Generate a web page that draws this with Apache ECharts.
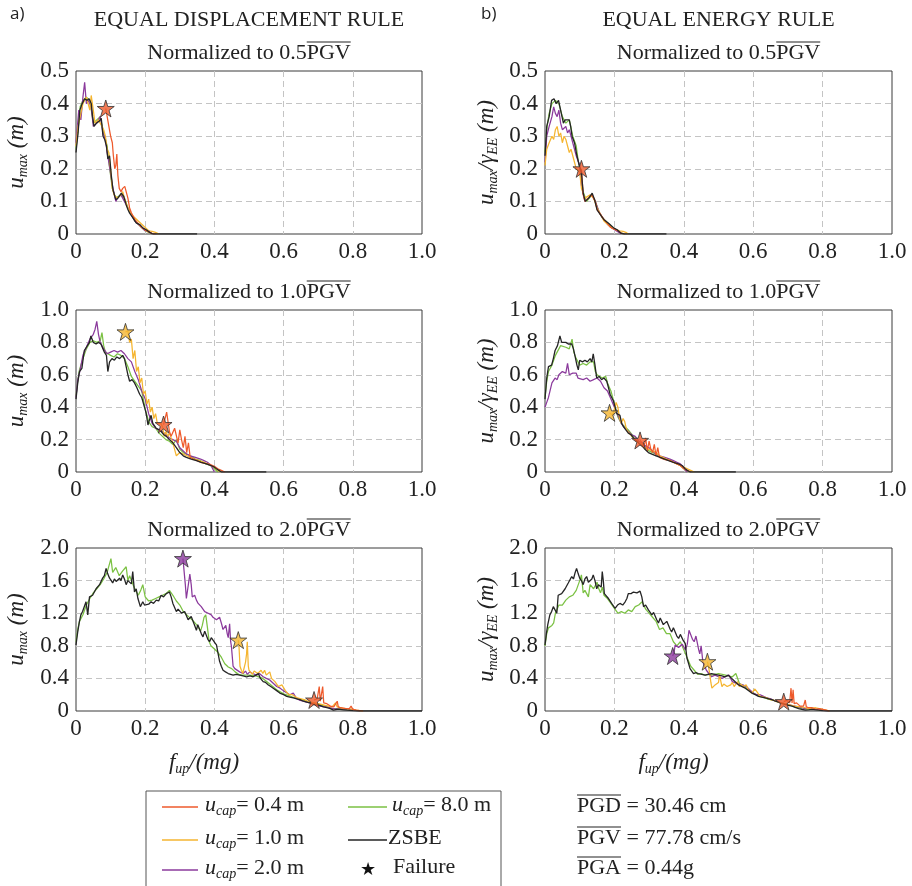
<!DOCTYPE html>
<html><head><meta charset="utf-8">
<script src="https://cdn.jsdelivr.net/npm/echarts@6/dist/echarts.min.js"></script>
<style>html,body{margin:0;padding:0;background:#fff}#c{width:912px;height:886px}</style>
</head><body><div id="c"></div><script>
// ---------------- DATA ----------------
// Equal displacement rule, 0.5 PGV
const DR05_ZSBE=[[0,.25],[.006,.31],[.011,.38],[.018,.40],[.025,.415],[.029,.42],[.032,.41],[.038,.415],[.044,.40],[.048,.36],[.052,.33],[.059,.34],[.062,.335],[.066,.345],[.073,.355],[.078,.30],[.083,.29],[.088,.27],[.092,.23],[.097,.24],[.102,.18],[.107,.135],[.115,.105],[.121,.11],[.126,.115],[.131,.125],[.138,.115],[.145,.09],[.15,.075],[.155,.064],[.16,.058],[.165,.049],[.174,.034],[.184,.029],[.194,.018],[.203,.013],[.213,.005],[.222,0],[.35,0]];
const DR05_U04=[[.086,.385],[.09,.38],[.095,.33],[.10,.30],[.105,.28],[.108,.24],[.112,.20],[.115,.21],[.118,.245],[.121,.18],[.125,.14],[.13,.13],[.135,.14],[.141,.146],[.145,.13],[.15,.11],[.155,.08],[.16,.065],[.17,.045],[.18,.032],[.19,.02],[.20,.012],[.21,.006],[.22,.002],[.23,0]];
const DR05_U10=[[0,.27],[.006,.33],[.012,.36],[.02,.40],[.03,.42],[.035,.40],[.04,.38],[.044,.425],[.05,.38],[.055,.34],[.065,.35],[.07,.34],[.08,.32],[.085,.30],[.09,.26],[.095,.25],[.10,.20],[.105,.14],[.11,.12],[.12,.11],[.13,.12],[.135,.13],[.14,.11],[.15,.08],[.16,.06],[.17,.05],[.18,.04],[.19,.03],[.20,.02],[.21,.01],[.22,.008],[.23,.005],[.24,0]];
const DR05_U20=[[0,.28],[.008,.38],[.014,.35],[.02,.42],[.025,.465],[.03,.40],[.035,.41],[.04,.40],[.045,.38],[.05,.33],[.06,.34],[.065,.35],[.07,.36],[.078,.31],[.085,.29],[.09,.25],[.095,.22],[.105,.15],[.115,.10],[.12,.11],[.13,.12],[.135,.12],[.14,.10],[.15,.08],[.16,.06],[.17,.04],[.18,.03],[.19,.02],[.20,.01],[.21,.01],[.22,0]];
const DR05_U80=[[0,.26],[.006,.32],[.012,.39],[.02,.41],[.03,.42],[.04,.41],[.05,.34],[.06,.35],[.07,.36],[.08,.31],[.09,.27],[.095,.22],[.105,.14],[.115,.11],[.13,.12],[.14,.11],[.15,.08],[.16,.06],[.17,.04],[.18,.03],[.19,.02],[.20,.01],[.22,0]];
const DR05_FAIL=[[.086,.385,'u04']];

// Equal energy rule, 0.5 PGV
const EE05_ZSBE=[[0,.24],[.005,.33],[.012,.36],[.019,.41],[.026,.415],[.032,.40],[.039,.41],[.043,.405],[.047,.37],[.053,.34],[.058,.35],[.063,.345],[.07,.35],[.074,.33],[.078,.30],[.085,.28],[.092,.24],[.099,.21],[.105,.19],[.11,.125],[.116,.10],[.126,.11],[.136,.125],[.143,.105],[.15,.074],[.16,.059],[.17,.044],[.184,.032],[.199,.018],[.208,.013],[.218,.003],[.228,0],[.35,0]];
const EE05_U04=[[.105,.20],[.108,.20],[.11,.12],[.115,.10],[.125,.11],[.135,.12],[.14,.12],[.145,.10],[.15,.075],[.16,.06],[.17,.045],[.18,.033],[.19,.02],[.20,.015],[.21,.01],[.22,.003],[.23,0]];
const EE05_U10=[[0,.21],[.005,.26],[.012,.28],[.02,.30],[.025,.29],[.03,.32],[.035,.33],[.04,.30],[.045,.31],[.05,.28],[.055,.30],[.06,.29],[.065,.27],[.07,.25],[.075,.26],[.08,.24],[.085,.22],[.09,.20],[.10,.19],[.105,.14],[.115,.11],[.13,.12],[.14,.11],[.15,.08],[.16,.06],[.17,.04],[.18,.03],[.19,.02],[.20,.015],[.215,.01],[.225,.008],[.235,.004],[.24,0]];
const EE05_U20=[[0,.22],[.005,.30],[.012,.33],[.02,.36],[.025,.39],[.03,.37],[.035,.36],[.04,.38],[.045,.34],[.05,.32],[.06,.33],[.065,.31],[.07,.32],[.08,.28],[.085,.26],[.09,.24],[.10,.21],[.105,.15],[.115,.10],[.125,.11],[.135,.12],[.145,.10],[.155,.07],[.165,.05],[.18,.03],[.19,.02],[.205,.01],[.22,0]];
const EE05_U80=[[0,.25],[.006,.33],[.012,.37],[.02,.40],[.03,.41],[.04,.40],[.05,.36],[.06,.34],[.07,.35],[.08,.30],[.09,.27],[.095,.23],[.10,.20],[.11,.13],[.12,.10],[.135,.12],[.145,.10],[.155,.07],[.165,.05],[.175,.04],[.185,.03],[.195,.02],[.21,.01],[.225,0]];
const EE05_FAIL=[[.105,.20,'u04']];

// Equal displacement rule, 1.0 PGV
const DR10_ZSBE=[[0,.45],[.005,.55],[.01,.62],[.017,.64],[.024,.75],[.03,.77],[.039,.80],[.043,.84],[.05,.80],[.058,.79],[.065,.80],[.072,.79],[.082,.74],[.088,.72],[.092,.62],[.097,.68],[.104,.70],[.111,.69],[.118,.71],[.126,.70],[.135,.72],[.14,.70],[.145,.65],[.15,.60],[.155,.56],[.162,.57],[.169,.55],[.176,.52],[.184,.48],[.19,.46],[.198,.40],[.203,.36],[.208,.29],[.212,.32],[.217,.35],[.222,.30],[.227,.29],[.232,.27],[.24,.26],[.246,.25],[.254,.23],[.261,.22],[.27,.20],[.28,.18],[.29,.15],[.30,.12],[.31,.10],[.319,.09],[.333,.08],[.348,.07],[.362,.06],[.377,.05],[.39,.04],[.40,.03],[.406,.02],[.413,.01],[.42,0],[.55,0]];
const DR10_U04=[[.253,.293],[.257,.30],[.262,.37],[.266,.36],[.27,.25],[.275,.22],[.28,.22],[.285,.27],[.29,.26],[.295,.18],[.30,.26],[.305,.20],[.31,.15],[.315,.22],[.32,.12],[.325,.18],[.33,.09],[.34,.08],[.35,.07],[.36,.06],[.38,.05],[.39,.045],[.40,.035],[.41,.02],[.42,.01],[.43,0]];
const DR10_U10=[[.143,.865],[.15,.87],[.155,.80],[.16,.82],[.165,.70],[.17,.75],[.175,.62],[.18,.65],[.185,.55],[.19,.58],[.195,.48],[.20,.50],[.205,.42],[.21,.45],[.215,.37],[.22,.40],[.225,.33],[.23,.36],[.235,.30],[.245,.30],[.25,.28],[.255,.22],[.26,.25],[.265,.22],[.27,.24],[.28,.18],[.29,.10],[.30,.12],[.31,.11],[.32,.10],[.33,.09],[.34,.08],[.355,.07],[.37,.06],[.38,.05],[.39,.04],[.40,.03],[.41,.01],[.42,0]];
const DR10_U20=[[0,.46],[.005,.57],[.01,.61],[.02,.72],[.03,.77],[.04,.82],[.05,.85],[.055,.88],[.06,.93],[.065,.85],[.07,.80],[.08,.76],[.09,.73],[.10,.74],[.11,.75],[.12,.74],[.13,.75],[.14,.73],[.15,.70],[.16,.68],[.17,.62],[.18,.57],[.185,.56],[.19,.50],[.20,.45],[.21,.36],[.215,.33],[.22,.30],[.23,.27],[.24,.26],[.25,.25],[.26,.23],[.27,.21],[.28,.20],[.29,.19],[.30,.15],[.31,.13],[.32,.11],[.33,.10],[.345,.09],[.36,.08],[.37,.07],[.38,.06],[.385,.05],[.39,.04],[.395,.02],[.40,0]];
const DR10_U80=[[0,.47],[.005,.56],[.01,.63],[.02,.70],[.03,.76],[.04,.80],[.05,.81],[.06,.80],[.07,.81],[.075,.86],[.08,.78],[.085,.74],[.09,.73],[.10,.72],[.11,.71],[.12,.73],[.13,.72],[.14,.70],[.15,.65],[.16,.59],[.17,.56],[.18,.53],[.19,.50],[.20,.39],[.21,.31],[.22,.28],[.23,.27],[.24,.24],[.25,.22],[.26,.20],[.27,.19],[.28,.17],[.29,.20],[.30,.14],[.31,.12],[.32,.11],[.33,.10],[.345,.08],[.36,.07],[.375,.05],[.39,.04],[.40,.02],[.41,0]];
const DR10_FAIL=[[.143,.865,'u10'],[.253,.293,'u04']];

// Equal energy rule, 1.0 PGV
const EE10_ZSBE=[[0,.45],[.005,.58],[.01,.65],[.019,.66],[.024,.70],[.029,.75],[.036,.78],[.043,.84],[.048,.80],[.053,.80],[.06,.80],[.067,.79],[.077,.79],[.082,.76],[.087,.71],[.092,.66],[.096,.63],[.10,.69],[.108,.68],[.115,.69],[.122,.68],[.13,.70],[.135,.68],[.139,.73],[.144,.66],[.149,.58],[.156,.59],[.163,.57],[.17,.58],[.178,.56],[.183,.52],[.1875,.48],[.197,.44],[.202,.40],[.207,.36],[.216,.35],[.221,.30],[.226,.28],[.233,.26],[.24,.24],[.248,.23],[.255,.21],[.265,.19],[.274,.17],[.281,.16],[.288,.14],[.298,.12],[.308,.11],[.32,.10],[.332,.09],[.345,.08],[.356,.07],[.37,.06],[.385,.05],[.395,.04],[.404,.02],[.41,.01],[.418,0],[.55,0]];
const EE10_U04=[[.274,.195],[.278,.20],[.28,.18],[.285,.15],[.29,.21],[.295,.13],[.30,.19],[.305,.14],[.31,.12],[.315,.17],[.32,.10],[.325,.15],[.33,.09],[.34,.08],[.35,.075],[.36,.07],[.37,.06],[.38,.05],[.39,.04],[.40,.02],[.41,.01],[.42,0]];
const EE10_U10=[[.186,.365],[.19,.37],[.195,.35],[.20,.35],[.205,.43],[.21,.40],[.215,.33],[.22,.30],[.225,.33],[.23,.31],[.235,.26],[.24,.25],[.25,.22],[.26,.20],[.27,.18],[.28,.16],[.29,.15],[.30,.14],[.31,.13],[.32,.12],[.33,.10],[.34,.09],[.35,.08],[.36,.07],[.37,.06],[.38,.05],[.39,.04],[.40,.03],[.41,.02],[.42,.01],[.43,0]];
const EE10_U20=[[0,.40],[.005,.43],[.01,.46],[.02,.55],[.029,.58],[.035,.57],[.04,.60],[.05,.62],[.06,.61],[.065,.67],[.07,.60],[.08,.61],[.09,.61],[.095,.58],[.10,.57],[.11,.57],[.12,.58],[.13,.56],[.14,.57],[.15,.58],[.16,.56],[.17,.52],[.18,.50],[.19,.45],[.20,.40],[.21,.35],[.22,.30],[.23,.27],[.24,.25],[.25,.23],[.26,.22],[.27,.19],[.28,.18],[.29,.16],[.30,.15],[.31,.13],[.32,.11],[.33,.10],[.345,.09],[.36,.08],[.37,.07],[.38,.06],[.39,.05],[.40,.03],[.405,.01],[.41,0]];
const EE10_U80=[[0,.46],[.005,.56],[.01,.62],[.02,.66],[.03,.72],[.045,.78],[.05,.77],[.06,.77],[.07,.76],[.078,.82],[.083,.74],[.09,.70],[.10,.66],[.11,.67],[.12,.66],[.13,.68],[.14,.68],[.145,.62],[.15,.60],[.165,.58],[.175,.59],[.18,.55],[.19,.50],[.20,.42],[.21,.34],[.22,.30],[.23,.28],[.24,.26],[.255,.22],[.265,.21],[.27,.18],[.28,.17],[.29,.15],[.30,.13],[.31,.12],[.32,.11],[.335,.09],[.35,.08],[.365,.07],[.38,.05],[.39,.04],[.40,.02],[.415,0]];
const EE10_FAIL=[[.186,.365,'u10'],[.274,.195,'u04']];

// Equal displacement rule, 2.0 PGV
const DR20_ZSBE=[[0,.81],[.005,.97],[.01,1.10],[.014,1.18],[.019,1.22],[.024,1.20],[.029,1.34],[.034,1.18],[.039,1.40],[.044,1.38],[.048,1.42],[.053,1.44],[.058,1.50],[.063,1.48],[.068,1.55],[.072,1.56],[.077,1.63],[.082,1.66],[.087,1.75],[.092,1.68],[.097,1.63],[.102,1.60],[.106,1.57],[.111,1.62],[.116,1.59],[.121,1.61],[.126,1.63],[.13,1.60],[.135,1.67],[.14,1.62],[.145,1.55],[.15,1.60],[.155,1.59],[.16,1.56],[.164,1.71],[.169,1.46],[.174,1.50],[.179,1.38],[.186,1.28],[.193,1.34],[.198,1.30],[.203,1.28],[.21,1.31],[.217,1.34],[.224,1.32],[.232,1.36],[.239,1.35],[.246,1.42],[.253,1.40],[.261,1.44],[.27,1.46],[.275,1.40],[.28,1.32],[.285,1.30],[.29,1.22],[.295,1.25],[.30,1.26],[.305,1.20],[.309,1.18],[.314,1.22],[.319,1.20],[.324,1.12],[.328,1.10],[.333,1.16],[.338,1.14],[.343,1.05],[.348,.99],[.352,1.06],[.357,1.04],[.362,.95],[.367,.91],[.372,.98],[.377,.97],[.381,.88],[.386,.85],[.391,.90],[.396,.89],[.401,.84],[.406,.81],[.41,.72],[.415,.61],[.42,.55],[.425,.50],[.432,.48],[.44,.46],[.447,.45],[.454,.44],[.463,.45],[.473,.44],[.483,.43],[.493,.42],[.503,.43],[.512,.42],[.52,.44],[.527,.46],[.533,.40],[.541,.36],[.548,.35],[.556,.32],[.563,.30],[.57,.28],[.58,.25],[.589,.22],[.60,.20],[.609,.18],[.618,.17],[.628,.16],[.638,.15],[.647,.14],[.657,.12],[.667,.11],[.676,.10],[.686,.08],[.695,.075],[.705,.07],[.715,.05],[.725,.04],[.735,.03],[.744,.01],[.754,.02],[.763,.02],[.773,.015],[.783,.01],[.792,.008],[.80,.005],[.81,.002],[.82,0],[1,0]];
const DR20_U04=[[.688,.135],[.692,.13],[.697,.15],[.70,.16],[.703,.30],[.706,.12],[.71,.14],[.713,.30],[.716,.10],[.72,.08],[.725,.09],[.73,.10],[.735,.06],[.74,.05],[.745,.05],[.75,.06],[.755,.12],[.758,.05],[.765,.04],[.77,.035],[.78,.03],[.785,.05],[.79,.03],[.795,.06],[.80,.02],[.81,.01],[.82,.005],[.83,0]];
const DR20_U10=[[.469,.87],[.471,.80],[.474,.55],[.478,.50],[.482,.46],[.486,.48],[.49,.60],[.493,.70],[.495,.85],[.498,.55],[.50,.50],[.505,.48],[.51,.45],[.515,.49],[.52,.50],[.525,.46],[.53,.48],[.535,.50],[.54,.46],[.545,.50],[.55,.44],[.555,.46],[.56,.48],[.565,.40],[.57,.38],[.575,.36],[.58,.35],[.585,.30],[.59,.28],[.595,.32],[.60,.30],[.605,.25],[.61,.24],[.615,.20],[.62,.22],[.625,.20],[.63,.18],[.64,.16],[.65,.15],[.66,.14],[.67,.12],[.68,.11],[.69,.10],[.70,.09],[.71,.08],[.72,.07],[.73,.06],[.74,.05],[.745,.06],[.75,.10],[.755,.05],[.76,.04],[.77,.035],[.78,.03],[.79,.025],[.80,.02],[.81,.01],[.82,.005],[.83,0]];
const DR20_U20=[[.309,1.87],[.311,1.78],[.316,1.55],[.319,1.38],[.324,1.40],[.329,1.68],[.333,1.55],[.336,1.40],[.343,1.42],[.348,1.36],[.353,1.32],[.358,1.30],[.362,1.28],[.367,1.25],[.372,1.22],[.377,1.24],[.382,1.20],[.386,1.18],[.391,1.18],[.396,1.15],[.401,1.14],[.406,1.12],[.411,1.10],[.415,1.15],[.42,1.08],[.425,1.00],[.43,1.02],[.433,1.05],[.437,.95],[.44,.90],[.444,1.07],[.447,.85],[.449,.80],[.454,.55],[.459,.52],[.464,.50],[.473,.48],[.483,.46],[.49,.49],[.495,.45],[.502,.48],[.51,.46],[.515,.44],[.522,.44],[.53,.46],[.541,.42],[.55,.40],[.56,.38],[.57,.34],[.58,.30],[.59,.28],[.599,.25],[.61,.22],[.618,.20],[.628,.22],[.638,.15],[.648,.13],[.657,.12],[.667,.11],[.676,.10],[.69,.08],[.705,.06],[.715,.055],[.725,.05],[.735,.04],[.744,.03],[.754,.025],[.763,.02],[.773,.025],[.783,.03],[.792,.02],[.802,.01],[.812,.005],[.821,0]];
const DR20_U80=[[0,.85],[.005,1.0],[.01,1.10],[.02,1.18],[.03,1.30],[.04,1.38],[.05,1.45],[.06,1.50],[.07,1.55],[.08,1.62],[.09,1.70],[.095,1.72],[.101,1.87],[.106,1.70],[.11,1.68],[.115,1.76],[.12,1.75],[.125,1.66],[.13,1.65],[.135,1.72],[.14,1.70],[.145,1.77],[.15,1.60],[.155,1.66],[.16,1.65],[.165,1.55],[.17,1.50],[.175,1.46],[.18,1.42],[.187,1.48],[.193,1.55],[.20,1.40],[.21,1.35],[.22,1.36],[.23,1.38],[.24,1.40],[.25,1.42],[.26,1.44],[.265,1.46],[.27,1.48],[.28,1.42],[.29,1.35],[.30,1.30],[.31,1.22],[.32,1.18],[.33,1.14],[.34,1.10],[.35,1.05],[.36,.98],[.365,1.05],[.37,1.15],[.375,1.18],[.38,1.02],[.385,.85],[.39,.80],[.40,.76],[.41,.72],[.42,.66],[.43,.58],[.44,.54],[.45,.52],[.46,.48],[.47,.45],[.48,.44],[.50,.44],[.52,.43],[.54,.40],[.56,.33],[.58,.26],[.60,.21],[.62,.18],[.64,.15],[.66,.13],[.68,.10],[.70,.08],[.72,.06],[.74,.03],[.76,.03],[.78,.02],[.80,.01],[.82,0]];
const DR20_FAIL=[[.309,1.87,'u20'],[.469,.87,'u10'],[.688,.135,'u04']];

// Equal energy rule, 2.0 PGV
const EE20_ZSBE=[[0,.81],[.004,.95],[.008,1.06],[.014,1.18],[.019,1.22],[.024,1.28],[.029,1.30],[.034,1.20],[.038,1.42],[.043,1.40],[.048,1.44],[.053,1.46],[.058,1.50],[.062,1.48],[.067,1.57],[.072,1.55],[.077,1.65],[.082,1.62],[.087,1.70],[.091,1.75],[.096,1.68],[.10,1.63],[.105,1.60],[.11,1.55],[.115,1.62],[.12,1.65],[.125,1.58],[.13,1.59],[.135,1.62],[.139,1.67],[.144,1.60],[.149,1.50],[.154,1.55],[.159,1.57],[.162,1.52],[.165,1.71],[.168,1.60],[.171,1.44],[.176,1.42],[.183,1.38],[.188,1.40],[.192,1.32],[.197,1.30],[.202,1.26],[.209,1.30],[.216,1.32],[.224,1.30],[.231,1.34],[.236,1.38],[.24,1.44],[.248,1.44],[.255,1.46],[.265,1.45],[.274,1.47],[.279,1.40],[.284,1.28],[.29,1.30],[.298,1.24],[.303,1.25],[.308,1.18],[.313,1.21],[.317,1.22],[.322,1.12],[.327,1.08],[.332,1.14],[.337,1.16],[.341,1.06],[.346,1.04],[.351,1.10],[.356,1.12],[.361,1.00],[.365,.97],[.37,1.02],[.375,1.01],[.38,.92],[.385,.89],[.39,.94],[.394,.93],[.399,.86],[.404,.83],[.409,.65],[.414,.58],[.418,.52],[.423,.49],[.428,.46],[.435,.47],[.442,.46],[.452,.45],[.462,.44],[.47,.45],[.48,.46],[.49,.45],[.50,.44],[.51,.43],[.519,.42],[.528,.44],[.538,.40],[.548,.36],[.558,.32],[.568,.30],[.577,.28],[.587,.25],[.596,.22],[.606,.20],[.615,.18],[.625,.17],[.635,.16],[.645,.15],[.654,.14],[.664,.12],[.673,.11],[.683,.09],[.692,.08],[.702,.07],[.712,.06],[.721,.045],[.731,.03],[.74,.02],[.75,.01],[.76,.015],[.769,.02],[.779,.015],[.788,.01],[.80,.005],[.817,0],[1,0]];
const EE20_U04=[[.688,.115],[.692,.11],[.697,.13],[.70,.14],[.705,.10],[.709,.28],[.712,.10],[.715,.26],[.718,.09],[.72,.08],[.725,.10],[.73,.09],[.735,.06],[.74,.05],[.745,.06],[.75,.135],[.753,.05],[.76,.04],[.765,.05],[.77,.04],[.78,.02],[.785,.04],[.79,.03],[.80,.02],[.81,.01],[.82,0]];
const EE20_U10=[[.468,.605],[.471,.55],[.475,.45],[.478,.35],[.481,.28],[.485,.30],[.49,.32],[.495,.34],[.50,.35],[.503,.45],[.506,.38],[.51,.30],[.515,.33],[.52,.32],[.525,.30],[.53,.28],[.535,.32],[.54,.35],[.545,.30],[.55,.32],[.555,.36],[.56,.30],[.565,.33],[.57,.30],[.575,.32],[.58,.32],[.585,.27],[.59,.25],[.595,.22],[.60,.22],[.605,.27],[.61,.24],[.62,.18],[.63,.17],[.64,.16],[.65,.14],[.66,.13],[.67,.11],[.68,.10],[.69,.09],[.70,.08],[.71,.07],[.72,.06],[.73,.055],[.74,.05],[.75,.04],[.76,.03],[.77,.035],[.78,.04],[.79,.03],[.80,.02],[.81,.01],[.82,0]];
const EE20_U20=[[.368,.675],[.372,.72],[.375,.81],[.38,.82],[.385,.78],[.39,.80],[.395,.82],[.40,.80],[.405,.75],[.41,.82],[.415,.99],[.42,1.0],[.425,.88],[.43,.85],[.435,.92],[.44,.93],[.443,.75],[.446,.70],[.45,.80],[.455,.60],[.46,.55],[.465,.50],[.47,.48],[.48,.42],[.49,.44],[.50,.42],[.51,.40],[.52,.42],[.53,.44],[.54,.36],[.55,.34],[.56,.33],[.57,.32],[.58,.30],[.59,.26],[.60,.22],[.61,.20],[.62,.20],[.63,.18],[.64,.16],[.65,.15],[.66,.13],[.67,.12],[.68,.10],[.69,.09],[.70,.08],[.71,.07],[.72,.06],[.73,.05],[.74,.04],[.75,.03],[.76,.03],[.77,.02],[.78,.02],[.79,.02],[.80,.01],[.81,.005],[.82,0]];
const EE20_U80=[[0,.80],[.005,.95],[.01,1.02],[.02,1.05],[.025,1.08],[.03,1.20],[.04,1.30],[.05,1.30],[.06,1.36],[.07,1.40],[.08,1.42],[.09,1.48],[.095,1.50],[.10,1.60],[.105,1.67],[.11,1.45],[.115,1.48],[.12,1.50],[.125,1.40],[.13,1.55],[.14,1.50],[.15,1.58],[.155,1.50],[.16,1.45],[.165,1.52],[.17,1.42],[.18,1.38],[.19,1.32],[.20,1.26],[.21,1.20],[.22,1.22],[.23,1.20],[.24,1.24],[.25,1.22],[.26,1.28],[.27,1.30],[.28,1.34],[.29,1.25],[.30,1.20],[.31,1.15],[.32,1.10],[.33,1.00],[.34,1.02],[.35,.95],[.36,.95],[.37,.85],[.38,.80],[.39,.85],[.40,.75],[.41,.65],[.42,.55],[.43,.50],[.44,.45],[.45,.46],[.46,.44],[.47,.45],[.48,.44],[.50,.46],[.52,.44],[.54,.42],[.55,.46],[.56,.34],[.58,.28],[.60,.22],[.62,.18],[.64,.15],[.66,.13],[.68,.10],[.70,.08],[.72,.05],[.74,.03],[.76,.02],[.78,.02],[.80,.01],[.82,0]];
const EE20_FAIL=[[.368,.675,'u20'],[.468,.605,'u10'],[.688,.115,'u04']];

// axis / label definitions
const X_TICK_STEP=0.2;
const Y_MAX=[0.5,1.0,2.0];
const Y_STEP=[0.1,0.2,0.4];
const NORM_FACTORS=['0.5','1.0','2.0'];
const RULE_TITLES=['EQUAL DISPLACEMENT RULE','EQUAL ENERGY RULE'];
const PANEL_TAGS=['a)','b)'];
const SERIES_KEYS=['u80','u20','u10','u04','zsbe'];
const SERIES_LABELS={u04:'0.4 m',u10:'1.0 m',u20:'2.0 m',u80:'8.0 m',zsbe:'ZSBE'};
const GM_LABELS=[['PGD',' = 30.46 cm'],['PGV',' = 77.78 cm/s'],['PGA',' = 0.44g']];

const DATA=[
  [{u80:DR05_U80,u20:DR05_U20,u10:DR05_U10,u04:DR05_U04,zsbe:DR05_ZSBE,fail:DR05_FAIL},
   {u80:EE05_U80,u20:EE05_U20,u10:EE05_U10,u04:EE05_U04,zsbe:EE05_ZSBE,fail:EE05_FAIL}],
  [{u80:DR10_U80,u20:DR10_U20,u10:DR10_U10,u04:DR10_U04,zsbe:DR10_ZSBE,fail:DR10_FAIL},
   {u80:EE10_U80,u20:EE10_U20,u10:EE10_U10,u04:EE10_U04,zsbe:EE10_ZSBE,fail:EE10_FAIL}],
  [{u80:DR20_U80,u20:DR20_U20,u10:DR20_U10,u04:DR20_U04,zsbe:DR20_ZSBE,fail:DR20_FAIL},
   {u80:EE20_U80,u20:EE20_U20,u10:EE20_U10,u04:EE20_U04,zsbe:EE20_ZSBE,fail:EE20_FAIL}]
];

// ---------------- STYLE / LAYOUT ----------------
const COLORS={u04:'#EE5A2C',u10:'#F5B530',u20:'#8B3A9C',u80:'#7BC143',zsbe:'#252525'};
const SERIF='"Liberation Serif","Times New Roman",serif';
const TXT='#222';
const COLS=[{left:76,width:346},{left:545,width:347}];
const ROWS=[{top:71,height:163},{top:310,height:162},{top:548,height:163}];
const STAR='path://M50,2 L61.2,36.6 L97.6,36.6 L68.2,58 L79.4,92.6 L50,71.2 L20.6,92.6 L31.8,58 L2.4,36.6 L38.8,36.6 Z';

const ctx=document.createElement('canvas').getContext('2d');
function textW(t,size){ctx.font=size+'px "Liberation Serif"';return ctx.measureText(t).width;}
function overText(x,cy,pre,over,post,size,center){
  const all=pre+over+post, w=textW(all,size), wp=textW(pre,size), wo=textW(over,size);
  const x0=center?x-w/2:x;
  return [
    {type:'text',silent:true,x:x0,y:cy,style:{text:all,fontSize:size,fontFamily:SERIF,fill:TXT,textAlign:'left',textVerticalAlign:'middle'}},
    {type:'line',silent:true,shape:{x1:x0+wp,y1:cy-size*0.5,x2:x0+wp+wo,y2:cy-size*0.5},style:{stroke:TXT,lineWidth:1.1}}
  ];
}
const richName={
  i:{fontFamily:SERIF,fontStyle:'italic',fontSize:23,color:TXT,lineHeight:26},
  s:{fontFamily:SERIF,fontStyle:'italic',fontSize:14,color:TXT,lineHeight:14,verticalAlign:'bottom'}
};
const fmt=v=>v===0?'0':v.toFixed(1);

const grids=[],xAxes=[],yAxes=[],series=[],graphics=[];
let idx=0;
for(let r=0;r<3;r++){
  for(let c=0;c<2;c++){
    const g=Object.assign({},COLS[c],ROWS[r]);
    grids.push({left:g.left,top:g.top,width:g.width,height:g.height,show:true,borderColor:'#3a3a3a',borderWidth:1,backgroundColor:'#fff',containLabel:false});
    const xa={gridIndex:idx,type:'value',min:0,max:1,interval:X_TICK_STEP,
      axisLine:{show:false},axisTick:{show:false},
      axisLabel:{formatter:fmt,fontFamily:SERIF,fontSize:23,color:TXT,margin:6},
      splitLine:{show:true,showMinLine:false,showMaxLine:false,lineStyle:{color:'#c4c4c4',type:[6,4],width:1}}};
    if(r===2){
      xa.name='{i|f}{s|up}{i|/(mg)}';
      xa.nameLocation='middle';xa.nameGap=39;
      xa.nameTextStyle={rich:richName,padding:[0,90,0,0]};
    }
    xAxes.push(xa);
    yAxes.push({gridIndex:idx,type:'value',min:0,max:Y_MAX[r],interval:Y_STEP[r],
      axisLine:{show:false},axisTick:{show:false},
      axisLabel:{formatter:fmt,fontFamily:SERIF,fontSize:23,color:TXT,margin:7},
      splitLine:{show:true,showMinLine:false,showMaxLine:false,lineStyle:{color:'#c4c4c4',type:[6,4],width:1}},
      name:c===0?'{i|u}{s|max}{i| (m)}':'{i|u}{s|max}{i|/γ}{s|EE}{i| (m)}',
      nameLocation:'middle',nameRotate:90,nameGap:c===0?46:45,
      nameTextStyle:{rich:richName}});
    const d=DATA[r][c];
    SERIES_KEYS.forEach(k=>{
      series.push({type:'line',xAxisIndex:idx,yAxisIndex:idx,data:d[k],showSymbol:false,symbol:'none',
        lineStyle:{color:COLORS[k],width:k==='zsbe'?1.3:1.25},itemStyle:{color:COLORS[k]},
        animation:false,silent:true,z:k==='zsbe'?4:3,clip:true});
    });
    series.push({type:'scatter',xAxisIndex:idx,yAxisIndex:idx,symbol:STAR,symbolSize:17,z:6,animation:false,silent:true,
      data:d.fail.map(p=>({value:[p[0],p[1]],itemStyle:{color:COLORS[p[2]],borderColor:'#333',borderWidth:1}}))});
    graphics.push(...overText(g.left+g.width/2,g.top-18,'Normalized to '+NORM_FACTORS[r],'PGV','',22,true));
    idx++;
  }
}
// column headings
for(let c=0;c<2;c++){
  const cx=COLS[c].left+COLS[c].width/2;
  graphics.push({type:'text',silent:true,x:cx,y:20,style:{text:RULE_TITLES[c],fontSize:22,fontFamily:SERIF,fill:TXT,textAlign:'center',textVerticalAlign:'middle'}});
}
graphics.push({type:'text',silent:true,x:10,y:14,style:{text:PANEL_TAGS[0],fontSize:17,fontFamily:'"Open Sans",sans-serif',fill:TXT,textAlign:'left',textVerticalAlign:'middle'}});
graphics.push({type:'text',silent:true,x:481,y:14,style:{text:PANEL_TAGS[1],fontSize:17,fontFamily:'"Open Sans",sans-serif',fill:TXT,textAlign:'left',textVerticalAlign:'middle'}});

// legend box
const richLeg={
  i:{fontFamily:SERIF,fontStyle:'italic',fontSize:22,color:TXT,lineHeight:26},
  s:{fontFamily:SERIF,fontStyle:'italic',fontSize:14,color:TXT,lineHeight:14,verticalAlign:'bottom'},
  n:{fontFamily:SERIF,fontSize:22,color:TXT,lineHeight:26}
};
graphics.push({type:'rect',silent:true,shape:{x:146,y:791,width:355,height:120},style:{fill:'none',stroke:'#555',lineWidth:1}});
const legRows=[805,838,868];
const legItems=[['u04',0,0],['u10',0,1],['u20',0,2],['u80',1,0],['zsbe',1,1]];
const legCols=[{lx1:162,lx2:198,tx:205},{lx1:348,lx2:387,tx:392}];
legItems.forEach(([k,col,row])=>{
  const y=legRows[row], L=legCols[col];
  graphics.push({type:'line',silent:true,shape:{x1:L.lx1,y1:y+2,x2:L.lx2,y2:y+2},style:{stroke:COLORS[k],lineWidth:1.3}});
  const txt=k==='zsbe'?'{n|'+SERIES_LABELS[k]+'}':'{i|u}{s|cap}{n|= '+SERIES_LABELS[k]+'}';
  graphics.push({type:'text',silent:true,x:L.tx+(k==='zsbe'?-4:0),y:y,style:{text:txt,rich:richLeg,textAlign:'left',textVerticalAlign:'middle',fontFamily:SERIF,fontSize:22,fill:TXT}});
});
graphics.push({type:'text',silent:true,x:368,y:870,style:{text:'★',fontSize:18,fontFamily:'"DejaVu Sans",sans-serif',fill:'#111',textAlign:'center',textVerticalAlign:'middle'}});
graphics.push({type:'text',silent:true,x:393,y:867,style:{text:'Failure',fontSize:22,fontFamily:SERIF,fill:TXT,textAlign:'left',textVerticalAlign:'middle'}});

// ground motion stats
const gmRows=[806,838,868];
GM_LABELS.forEach((p,i)=>graphics.push(...overText(577,gmRows[i],'',p[0],p[1],22,false)));

const chart=echarts.init(document.getElementById('c'),null,{renderer:'canvas'});
chart.setOption({animation:false,backgroundColor:'#fff',grid:grids,xAxis:xAxes,yAxis:yAxes,series:series,graphic:{elements:graphics}});
</script></body></html>
